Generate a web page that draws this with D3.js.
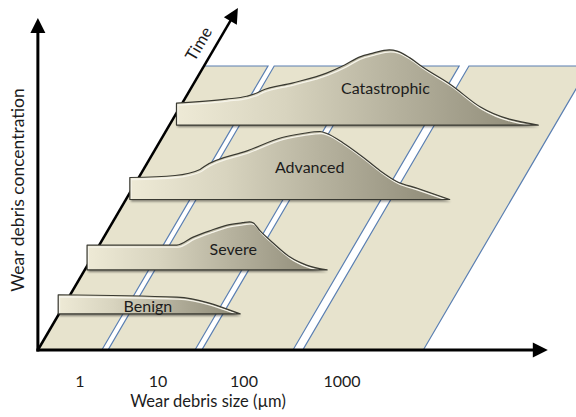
<!DOCTYPE html>
<html>
<head>
<meta charset="utf-8">
<script src="https://cdn.jsdelivr.net/npm/d3@7"></script>
<style>
  body { margin: 0; background: #fff; }
  text { font-family: Lato, "Open Sans", sans-serif; fill: #1c1c1c; }
</style>
</head>
<body>
<svg width="576" height="417"></svg>
<script>
// size axis is in log10(µm); tick labels sit on the decades
var tickValues = [0, 1, 2, 3];
var tickLabels = ["1", "10", "100", "1000"];

// ground panels between the white stripes (log10 µm)
var panelEdges = [[-0.54, 0.28], [0.36, 1.43], [1.51, 2.5], [2.6, 3.83]];

// one distribution per wear stage: [log10 size, concentration]
var seriesNames = ["Benign", "Severe", "Advanced", "Catastrophic"];
var seriesTimes = [1.27, 2.82, 5.3, 7.92];
var benignValues = [[-0.55, 2.4], [0.97, 2.1], [1.71, 0]];
var severeValues = [[-0.51, 3.1], [0.64, 3.1], [0.85, 4.1], [1.06, 4.9], [1.26, 5.6], [1.44, 5.9],
                    [1.52, 6.0], [1.56, 5.9], [1.64, 4.9], [1.79, 3.4], [1.99, 1.6], [2.16, 0.6], [2.37, 0]];
var advancedValues = [[-0.49, 2.75], [0.09, 3.0], [0.41, 3.75], [0.46, 4.1], [1.02, 6.1], [1.42, 7.75],
                      [1.66, 8.25], [1.86, 8.5], [1.94, 8.25], [2.11, 7.1], [2.32, 5.25], [2.49, 3.6],
                      [2.66, 2.25], [2.87, 1.4], [3.2, 0]];
var catastrophicValues = [[-0.45, 2.75], [0.19, 3.25], [0.45, 3.6], [0.58, 4.0], [0.64, 4.3], [1.03, 5.25],
                          [1.43, 6.5], [1.64, 7.5], [1.81, 8.5], [1.97, 9.0], [2.14, 9.4], [2.22, 9.25],
                          [2.35, 8.4], [2.48, 7.25], [2.76, 5.1], [3.07, 2.25], [3.66, 0]];
// where each stage name sits: [log10 size, concentration]
var labelAnchors = [[0.6, 0.9], [1.33, 2.6], [1.74, 4.0], [2.1, 4.6]];

var seriesValues = [benignValues, severeValues, advancedValues, catastrophicValues];

var svg = d3.select("svg");
var originY = 350,
    shear = 0.585,        // how far right a point moves per pixel of depth
    planeDepth = 10,      // time units covered by the ground plane
    xEnd = 5.1, yEnd = 41.5, tEnd = 12.04;

var x = d3.scaleLinear().domain([0, 1, 2, 3]).range([80, 158, 244, 342]); // log size -> ground x
var y = d3.scaleLinear().domain([0, 10]).range([0, 80]);                  // concentration -> height
var t = d3.scaleLinear().domain([0, 10]).range([0, 284]);                 // time -> depth

function px(s, time) { return x(s) + shear * t(time); }
function py(c, time) { return originY - t(time) - y(c); }

var defs = svg.append("defs");
var grad = defs.append("linearGradient").attr("id", "rib")
    .attr("x1", 0).attr("x2", 1).attr("y1", 0).attr("y2", 0);
grad.append("stop").attr("offset", 0).attr("stop-color", "#eeead6");
grad.append("stop").attr("offset", 0.3).attr("stop-color", "#d8d4bf");
grad.append("stop").attr("offset", 0.6).attr("stop-color", "#b6b29e");
grad.append("stop").attr("offset", 1).attr("stop-color", "#8c8875");

var shadow = defs.append("filter").attr("id", "shadow")
    .attr("x", "-5%").attr("y", "-10%").attr("width", "115%").attr("height", "130%");
shadow.append("feDropShadow").attr("dx", 1).attr("dy", 2).attr("stdDeviation", 1.2)
    .attr("flood-color", "#000").attr("flood-opacity", 0.45);

// ground plane
var x0 = x(panelEdges[0][0]);
svg.append("g").selectAll("path")
    .data(panelEdges)
    .enter().append("path")
    .attr("d", function(e) {
        return "M" + px(e[0], 0) + "," + py(0, 0) +
               "L" + px(e[1], 0) + "," + py(0, 0) +
               "L" + px(e[1], planeDepth) + "," + py(0, planeDepth) +
               "L" + px(e[0], planeDepth) + "," + py(0, planeDepth) + "Z";
    })
    .attr("fill", "#e7e3cd")
    .attr("stroke", "#5a7fb2")
    .attr("stroke-width", 1.2);

// axes
function arrowHead(tx, ty, angle) {
    var len = 15, half = 7.5;
    var ca = Math.cos(angle), sa = Math.sin(angle);
    var bx = tx - len * ca, by = ty - len * sa;
    svg.append("path")
       .attr("d", "M" + tx + "," + ty +
                  "L" + (bx - half * sa) + "," + (by + half * ca) +
                  "L" + (bx + half * sa) + "," + (by - half * ca) + "Z")
       .attr("fill", "#000");
}
var axisG = svg.append("g").attr("stroke", "#000").attr("fill", "none");
// concentration axis
axisG.append("line").attr("x1", x0).attr("y1", originY + 1.5)
    .attr("x2", x0).attr("y2", originY - y(yEnd) + 10).attr("stroke-width", 3);
arrowHead(x0, originY - y(yEnd), -Math.PI / 2);
// size axis
axisG.append("line").attr("x1", x0 - 1.5).attr("y1", originY)
    .attr("x2", x(xEnd) - 10).attr("y2", originY).attr("stroke-width", 3);
arrowHead(x(xEnd), originY, 0);
// time axis
var tx1 = px(panelEdges[0][0], tEnd), ty1 = py(0, tEnd);
var tAngle = Math.atan2(ty1 - originY, tx1 - x0);
axisG.append("line").attr("x1", x0).attr("y1", originY)
    .attr("x2", tx1 - 10 * Math.cos(tAngle)).attr("y2", ty1 - 10 * Math.sin(tAngle))
    .attr("stroke-width", 2.5);
arrowHead(tx1, ty1, tAngle);

// distributions, back to front
d3.range(seriesNames.length).reverse().forEach(function(i) {
    var time = seriesTimes[i];
    var base = py(0, time);
    var area = d3.area()
        .x(function(d) { return px(d[0], time); })
        .y0(base)
        .y1(function(d) { return py(d[1], time); })
        .curve(d3.curveMonotoneX);
    var d = area(seriesValues[i]);

    defs.append("clipPath").attr("id", "clip" + i).append("path").attr("d", d);

    var g = svg.append("g").attr("class", "stage");
    g.append("path").attr("d", d)
        .attr("fill", "url(#rib)")
        .attr("filter", "url(#shadow)");
    g.append("g").attr("clip-path", "url(#clip" + i + ")")
        .append("path").attr("d", d)
        .attr("transform", "translate(1.3,2)")
        .attr("fill", "none")
        .attr("stroke", "#f6f4ea")
        .attr("stroke-width", 1.3);
    g.append("path").attr("d", d)
        .attr("fill", "none")
        .attr("stroke", "#3a3a32")
        .attr("stroke-width", 1.2)
        .attr("stroke-linejoin", "round");
    g.append("text")
        .attr("x", px(labelAnchors[i][0], time))
        .attr("y", py(labelAnchors[i][1], time))
        .attr("dy", "0.35em")
        .attr("text-anchor", "middle")
        .style("font-size", "16px")
        .text(seriesNames[i]);
});

// tick labels and titles
svg.append("g").selectAll("text")
    .data(tickValues)
    .enter().append("text")
    .attr("x", function(d) { return x(d); })
    .attr("y", originY + 37)
    .attr("text-anchor", "middle")
    .style("font-size", "16px")
    .text(function(d, i) { return tickLabels[i]; });

svg.append("text")
    .attr("x", 208).attr("y", 407)
    .attr("text-anchor", "middle")
    .style("font-size", "16.5px")
    .text("Wear debris size (\u00b5m)");

svg.append("text")
    .attr("transform", "translate(24,190) rotate(-90)")
    .attr("text-anchor", "middle")
    .style("font-size", "17.5px")
    .text("Wear debris concentration");

var tl = 10.5;
svg.append("text")
    .attr("transform", "translate(" + px(panelEdges[0][0], tl) + "," + py(0, tl) + ") rotate(" + (tAngle * 180 / Math.PI) + ")")
    .attr("dy", -10)
    .attr("text-anchor", "middle")
    .style("font-size", "16.5px")
    .text("Time");
</script>
</body>
</html>
